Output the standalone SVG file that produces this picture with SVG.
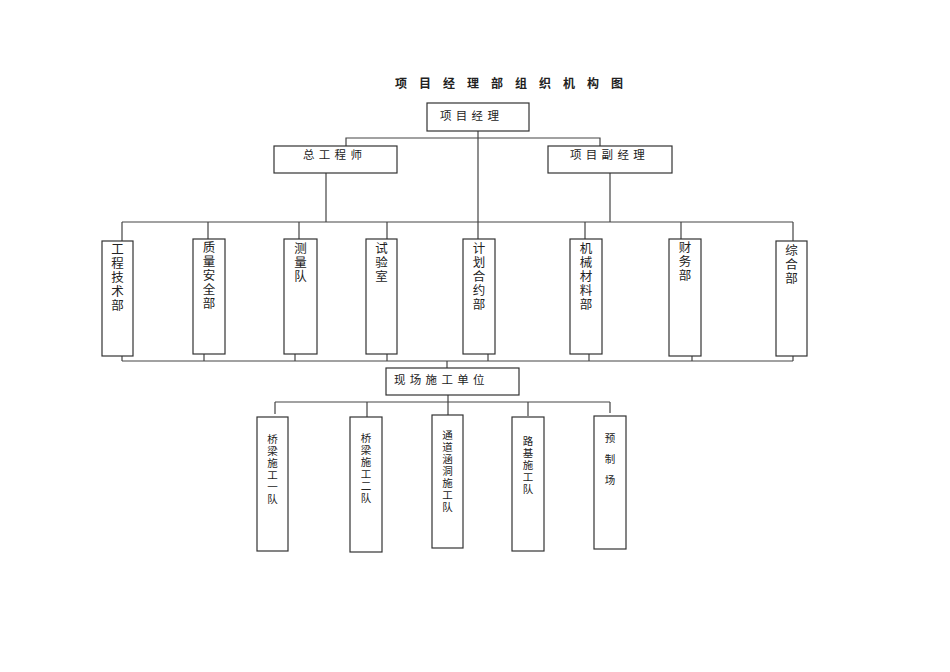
<svg xmlns="http://www.w3.org/2000/svg" width="950" height="672" viewBox="0 0 950 672">
<style>
.box{fill:#fff;stroke:#333;stroke-width:1.2}
.ln{fill:none;stroke:#444;stroke-width:1.2}
text{font-family:"Noto Sans CJK SC","Noto Sans",sans-serif;fill:#222}
.h{font-size:11.5px;letter-spacing:4.3px}
.d{font-size:12.5px;text-anchor:middle}
.t{font-size:10.5px;text-anchor:middle}
</style>
<rect width="950" height="672" fill="#fff"/>
<text x="395" y="88" style="font-size:12px;font-weight:bold;letter-spacing:12px">项目经理部组织机构图</text>
<g id="connectors" class="ln">
<path d="M478,131V239"/>
<path d="M346,146V138H600V146"/>
<path d="M326,173V222M610,173V222"/>
<path d="M122,222H793"/>
<path d="M122,222V241M208,222V239M299,222V239M387,222V239M585,222V239M681,222V239M793,222V241"/>
<path d="M122,356V361M204,354V361M295,354V361M387,354V361M488,354V361M589,354V361M692,356V361M793,356V361"/>
<path d="M122,361H793"/>
<path d="M447,361V368M448,395V402"/>
<path d="M275,402H610"/>
<path d="M275,402V414M367,402V417M448,402V415M528,402V416M610,402V413"/>
</g>
<g id="n_pm"><rect class="box" x="427" y="103" width="102" height="28"/><text class="h" x="440" y="120">项目经理</text></g>
<g id="n_ce"><rect class="box" x="274" y="146" width="123" height="27"/><text class="h" x="303" y="159">总工程师</text></g>
<g id="n_dpm"><rect class="box" x="548" y="146" width="124" height="27"/><text class="h" x="570" y="159">项目副经理</text></g>
<g id="d1"><rect class="box" x="102" y="241" width="31" height="115"/><text class="d" y="254"><tspan x="117.5">工</tspan><tspan x="117.5" dy="14">程</tspan><tspan x="117.5" dy="14">技</tspan><tspan x="117.5" dy="14">术</tspan><tspan x="117.5" dy="14">部</tspan></text></g>
<g id="d2"><rect class="box" x="193" y="239" width="32" height="115"/><text class="d" y="252"><tspan x="209">质</tspan><tspan x="209" dy="14">量</tspan><tspan x="209" dy="14">安</tspan><tspan x="209" dy="14">全</tspan><tspan x="209" dy="14">部</tspan></text></g>
<g id="d3"><rect class="box" x="284" y="239" width="33" height="115"/><text class="d" y="253"><tspan x="300.5">测</tspan><tspan x="300.5" dy="14">量</tspan><tspan x="300.5" dy="14">队</tspan></text></g>
<g id="d4"><rect class="box" x="366" y="239" width="31" height="115"/><text class="d" y="253"><tspan x="381.5">试</tspan><tspan x="381.5" dy="14">验</tspan><tspan x="381.5" dy="14">室</tspan></text></g>
<g id="d5"><rect class="box" x="463" y="239" width="32" height="115"/><text class="d" y="253"><tspan x="479">计</tspan><tspan x="479" dy="14">划</tspan><tspan x="479" dy="14">合</tspan><tspan x="479" dy="14">约</tspan><tspan x="479" dy="14">部</tspan></text></g>
<g id="d6"><rect class="box" x="570" y="239" width="32" height="115"/><text class="d" y="253"><tspan x="586">机</tspan><tspan x="586" dy="14">械</tspan><tspan x="586" dy="14">材</tspan><tspan x="586" dy="14">料</tspan><tspan x="586" dy="14">部</tspan></text></g>
<g id="d7"><rect class="box" x="669" y="239" width="32" height="117"/><text class="d" y="252"><tspan x="685">财</tspan><tspan x="685" dy="14">务</tspan><tspan x="685" dy="14">部</tspan></text></g>
<g id="d8"><rect class="box" x="776" y="241" width="31" height="115"/><text class="d" y="255"><tspan x="791.5">综</tspan><tspan x="791.5" dy="14">合</tspan><tspan x="791.5" dy="14">部</tspan></text></g>
<g id="n_site"><rect class="box" x="386" y="368" width="133" height="27"/><text class="h" x="394" y="384">现场施工单位</text></g>
<g id="t1"><rect class="box" x="257" y="417" width="31" height="134"/><text class="t" y="443"><tspan x="272.5">桥</tspan><tspan x="272.5" dy="12">梁</tspan><tspan x="272.5" dy="12">施</tspan><tspan x="272.5" dy="12">工</tspan><tspan x="272.5" dy="12">一</tspan><tspan x="272.5" dy="12">队</tspan></text></g>
<g id="t2"><rect class="box" x="350" y="417" width="32" height="135"/><text class="t" y="442"><tspan x="366">桥</tspan><tspan x="366" dy="12">梁</tspan><tspan x="366" dy="12">施</tspan><tspan x="366" dy="12">工</tspan><tspan x="366" dy="12">二</tspan><tspan x="366" dy="12">队</tspan></text></g>
<g id="t3"><rect class="box" x="432" y="415" width="31" height="133"/><text class="t" y="439"><tspan x="447.5">通</tspan><tspan x="447.5" dy="12">道</tspan><tspan x="447.5" dy="12">涵</tspan><tspan x="447.5" dy="12">洞</tspan><tspan x="447.5" dy="12">施</tspan><tspan x="447.5" dy="12">工</tspan><tspan x="447.5" dy="12">队</tspan></text></g>
<g id="t4"><rect class="box" x="512" y="417" width="32" height="134"/><text class="t" y="445"><tspan x="528">路</tspan><tspan x="528" dy="12">基</tspan><tspan x="528" dy="12">施</tspan><tspan x="528" dy="12">工</tspan><tspan x="528" dy="12">队</tspan></text></g>
<g id="t5"><rect class="box" x="594" y="416" width="32" height="133"/><text class="t" y="442"><tspan x="610">预</tspan><tspan x="610" dy="21">制</tspan><tspan x="610" dy="21">场</tspan></text></g>
</svg>
